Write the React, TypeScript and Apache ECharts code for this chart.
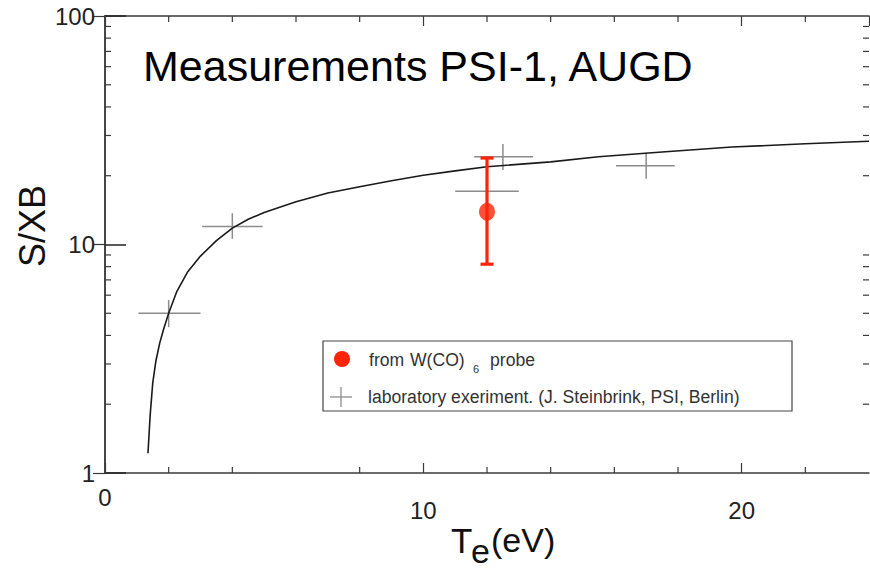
import React, { useEffect, useRef } from 'react';
import * as echarts from 'echarts';

// Axis ranges / ticks
const xMin = 0;
const xMax = 24;
const xInterval = 10;
const yMin = 1;
const yMax = 100;
const yMinorTicks = [2, 3, 4, 5, 6, 7, 8, 9, 20, 30, 40, 50, 60, 70, 80, 90];
const xMinorTicksBottom = [2, 4, 8, 12, 14, 16, 18, 22];
const xMinorTicksTop = [2, 4, 6, 8, 12, 14, 16, 18, 22];

// Theoretical curve S/XB(Te)
const curveTe = [1.35, 1.42, 1.5, 1.6, 1.72, 1.85, 2.0, 2.25, 2.6, 3.0, 3.5, 4.0, 4.5, 5.0, 6.0, 7.0, 8.0, 9.0, 10.0, 11.0, 12.0, 14.0, 15.5, 17.5, 19.7, 22.0, 24.0];
const curveSXB = [1.22, 1.8, 2.48, 3.1, 3.71, 4.3, 5.0, 6.2, 7.6, 8.9, 10.4, 11.8, 12.9, 13.8, 15.4, 16.8, 17.9, 19.0, 20.1, 21.0, 21.9, 23.0, 24.2, 25.4, 26.7, 27.6, 28.3];

// Laboratory experiment (crosses)
const labTe = [2.0, 4.0, 12.0, 12.5, 17.0];
const labSXB = [5.0, 12.0, 17.1, 24.2, 22.1];
const labTeLo = [1.05, 3.05, 11.0, 11.6, 16.05];
const labTeHi = [3.0, 4.95, 13.0, 13.45, 17.9];
const labSXBLo = [4.35, 10.6, 15.0, 21.2, 19.4];
const labSXBHi = [5.71, 13.7, 19.5, 27.5, 25.2];

// W(CO)6 probe measurement
const probeTe = [12.0];
const probeSXB = [13.9];
const probeSXBLo = [8.2];
const probeSXBHi = [23.9];

const FONT = 'Liberation Sans, Arial, Helvetica, sans-serif';
const RED = '#ff2408';
const GRAY = '#8c8c8c';
const FRAME = '#3a3a3a';

export default function App() {
  const ref = useRef<HTMLDivElement>(null);

  useEffect(() => {
    if (!ref.current) return;
    const chart = echarts.init(ref.current, null, { renderer: 'svg' });

    const curveData = curveTe.map((x, i) => [x, curveSXB[i]]);
    const labData = labTe.map((x, i) => [x, labSXB[i], labTeLo[i], labTeHi[i], labSXBLo[i], labSXBHi[i]]);
    const probeData = probeTe.map((x, i) => [x, probeSXB[i], probeSXBLo[i], probeSXBHi[i]]);

    const option: any = {
      animation: false,
      backgroundColor: '#ffffff',
      grid: { left: 105, top: 16, width: 764, height: 457, containLabel: false },
      xAxis: [
        {
          type: 'value',
          position: 'bottom',
          min: xMin,
          max: xMax,
          interval: xInterval,
          axisLine: { show: true, lineStyle: { color: FRAME, width: 1.5 } },
          axisTick: { show: true, inside: true, length: 10, lineStyle: { color: FRAME, width: 1.2 } },
          splitLine: { show: false },
          axisLabel: {
            showMaxLabel: false,
            margin: 12,
            color: '#222',
            fontFamily: FONT,
            fontSize: 24,
            formatter: (v: number) => (v === 0 ? '{z|0}' : '{n|' + v + '}'),
            rich: {
              z: { fontSize: 24, fontFamily: FONT, color: '#222' },
              n: { fontSize: 24, fontFamily: FONT, color: '#222', padding: [13, 0, 0, 0] },
            },
          },
        },
        {
          type: 'value',
          position: 'top',
          min: xMin,
          max: xMax,
          interval: xInterval,
          axisLine: { show: true, lineStyle: { color: FRAME, width: 1.5 } },
          axisTick: { show: true, inside: true, length: 10, lineStyle: { color: FRAME, width: 1.2 } },
          splitLine: { show: false },
          axisLabel: { show: false },
        },
      ],
      yAxis: [
        {
          type: 'log',
          logBase: 10,
          position: 'left',
          min: yMin,
          max: yMax,
          axisLine: { show: true, lineStyle: { color: FRAME, width: 1.5 } },
          axisTick: { show: true, inside: true, length: 21, lineStyle: { color: '#222', width: 1.5 } },
          splitLine: { show: false },
          axisLabel: { margin: 10, color: '#222', fontFamily: FONT, fontSize: 24 },
        },
        {
          type: 'log',
          logBase: 10,
          position: 'right',
          min: yMin,
          max: yMax,
          axisLine: { show: true, lineStyle: { color: FRAME, width: 1.5 } },
          axisTick: { show: true, inside: true, length: 12, lineStyle: { color: FRAME, width: 1.2 } },
          splitLine: { show: false },
          axisLabel: { show: false },
        },
      ],
      series: [
        {
          type: 'custom',
          name: 'yMinor',
          clip: false,
          silent: true,
          xAxisIndex: 0,
          yAxisIndex: 0,
          data: yMinorTicks.map((v) => [xMin, v]),
          encode: { x: 0, y: 1 },
          renderItem: (params: any, api: any) => {
            const v = api.value(1);
            const l = api.coord([xMin, v]);
            const r = api.coord([xMax, v]);
            return {
              type: 'group',
              children: [
                { type: 'line', shape: { x1: l[0], y1: l[1], x2: l[0] + 6, y2: l[1] }, style: { stroke: FRAME, lineWidth: 1.2 } },
                { type: 'line', shape: { x1: r[0] - 6, y1: r[1], x2: r[0], y2: r[1] }, style: { stroke: FRAME, lineWidth: 1.2 } },
              ],
            };
          },
        },
        {
          type: 'custom',
          name: 'xMinorBottom',
          clip: false,
          silent: true,
          data: xMinorTicksBottom.map((v) => [v, yMin]),
          encode: { x: 0, y: 1 },
          renderItem: (params: any, api: any) => {
            const p = api.coord([api.value(0), yMin]);
            return { type: 'line', shape: { x1: p[0], y1: p[1], x2: p[0], y2: p[1] - 6 }, style: { stroke: FRAME, lineWidth: 1.2 } };
          },
        },
        {
          type: 'custom',
          name: 'xMinorTop',
          clip: false,
          silent: true,
          data: xMinorTicksTop.map((v) => [v, yMax]),
          encode: { x: 0, y: 1 },
          renderItem: (params: any, api: any) => {
            const p = api.coord([api.value(0), yMax]);
            return { type: 'line', shape: { x1: p[0], y1: p[1], x2: p[0], y2: p[1] + 6 }, style: { stroke: FRAME, lineWidth: 1.2 } };
          },
        },
        {
          type: 'custom',
          name: 'laboratory',
          data: labData,
          encode: { x: 0, y: 1 },
          renderItem: (params: any, api: any) => {
            const x = api.value(0);
            const y = api.value(1);
            const c = api.coord([x, y]);
            const l = api.coord([api.value(2), y]);
            const r = api.coord([api.value(3), y]);
            const b = api.coord([x, api.value(4)]);
            const t = api.coord([x, api.value(5)]);
            const st = { stroke: GRAY, lineWidth: 1.5 };
            return {
              type: 'group',
              children: [
                { type: 'line', shape: { x1: l[0], y1: c[1], x2: r[0], y2: c[1] }, style: st },
                { type: 'line', shape: { x1: c[0], y1: t[1], x2: c[0], y2: b[1] }, style: st },
              ],
            };
          },
        },
        {
          type: 'line',
          name: 'curve',
          data: curveData,
          showSymbol: false,
          symbol: 'none',
          smooth: false,
          lineStyle: { color: '#1a1a1a', width: 1.6 },
          z: 3,
        },
        {
          type: 'custom',
          name: 'probeErr',
          data: probeData,
          encode: { x: 0, y: 1 },
          z: 4,
          renderItem: (params: any, api: any) => {
            const x = api.value(0);
            const b = api.coord([x, api.value(2)]);
            const t = api.coord([x, api.value(3)]);
            const st = { stroke: RED, lineWidth: 3.2 };
            return {
              type: 'group',
              children: [
                { type: 'line', shape: { x1: t[0], y1: t[1], x2: b[0], y2: b[1] }, style: st },
                { type: 'line', shape: { x1: t[0] - 6.5, y1: t[1], x2: t[0] + 6.5, y2: t[1] }, style: st },
                { type: 'line', shape: { x1: b[0] - 6.5, y1: b[1], x2: b[0] + 6.5, y2: b[1] }, style: st },
              ],
            };
          },
        },
        {
          type: 'scatter',
          name: 'probe',
          data: probeData.map((d) => [d[0], d[1]]),
          symbol: 'circle',
          symbolSize: [16, 18],
          itemStyle: { color: RED },
          z: 5,
        },
      ],
      graphic: [
        {
          type: 'text',
          x: 143,
          y: 66,
          style: { text: 'Measurements PSI-1, AUGD', fontSize: 43, fontFamily: FONT, fill: '#000', align: 'left', verticalAlign: 'middle' },
        },
        {
          type: 'text',
          x: 32,
          y: 226,
          rotation: Math.PI / 2,
          style: { text: 'S/XB', fontSize: 36, fontFamily: FONT, fill: '#111', align: 'center', verticalAlign: 'middle' },
        },
        {
          type: 'text',
          x: 451,
          y: 540,
          style: { text: 'T', fontSize: 35, fontFamily: FONT, fill: '#111', align: 'left', verticalAlign: 'middle' },
        },
        {
          type: 'text',
          x: 471,
          y: 551,
          style: { text: 'e', fontSize: 34, fontFamily: FONT, fill: '#111', align: 'left', verticalAlign: 'middle' },
        },
        {
          type: 'text',
          x: 491,
          y: 540,
          style: { text: '(eV)', fontSize: 34, fontFamily: FONT, fill: '#111', align: 'left', verticalAlign: 'middle' },
        },
        // legend
        {
          type: 'rect',
          shape: { x: 323, y: 341, width: 469, height: 70 },
          style: { fill: '#ffffff', stroke: '#444', lineWidth: 1.2 },
          z: 10,
        },
        { type: 'circle', shape: { cx: 342, cy: 359, r: 8 }, style: { fill: RED }, z: 11 },
        {
          type: 'text', x: 369, y: 360, z: 11,
          style: { text: 'from', fontSize: 17.6, fontFamily: FONT, fill: '#333', verticalAlign: 'middle' },
        },
        {
          type: 'text', x: 410, y: 360, z: 11,
          style: { text: 'W(CO)', fontSize: 17.6, fontFamily: FONT, fill: '#333', verticalAlign: 'middle' },
        },
        {
          type: 'text', x: 473, y: 369, z: 11,
          style: { text: '6', fontSize: 11, fontFamily: FONT, fill: '#333', verticalAlign: 'middle' },
        },
        {
          type: 'text', x: 490, y: 360, z: 11,
          style: { text: 'probe', fontSize: 17.6, fontFamily: FONT, fill: '#333', verticalAlign: 'middle' },
        },
        { type: 'line', shape: { x1: 330, y1: 397, x2: 352, y2: 397 }, style: { stroke: GRAY, lineWidth: 1.3 }, z: 11 },
        { type: 'line', shape: { x1: 341, y1: 387, x2: 341, y2: 407 }, style: { stroke: GRAY, lineWidth: 1.3 }, z: 11 },
        {
          type: 'text', x: 368, y: 397, z: 11,
          style: { text: 'laboratory exeriment. (J. Steinbrink, PSI, Berlin)', fontSize: 17.6, fontFamily: FONT, fill: '#333', verticalAlign: 'middle' },
        },
      ],
    };

    chart.setOption(option);
    return () => chart.dispose();
  }, []);

  return <div ref={ref} style={{ position: 'fixed', left: 0, top: 0, width: 870, height: 570, background: '#fff' }} />;
}
